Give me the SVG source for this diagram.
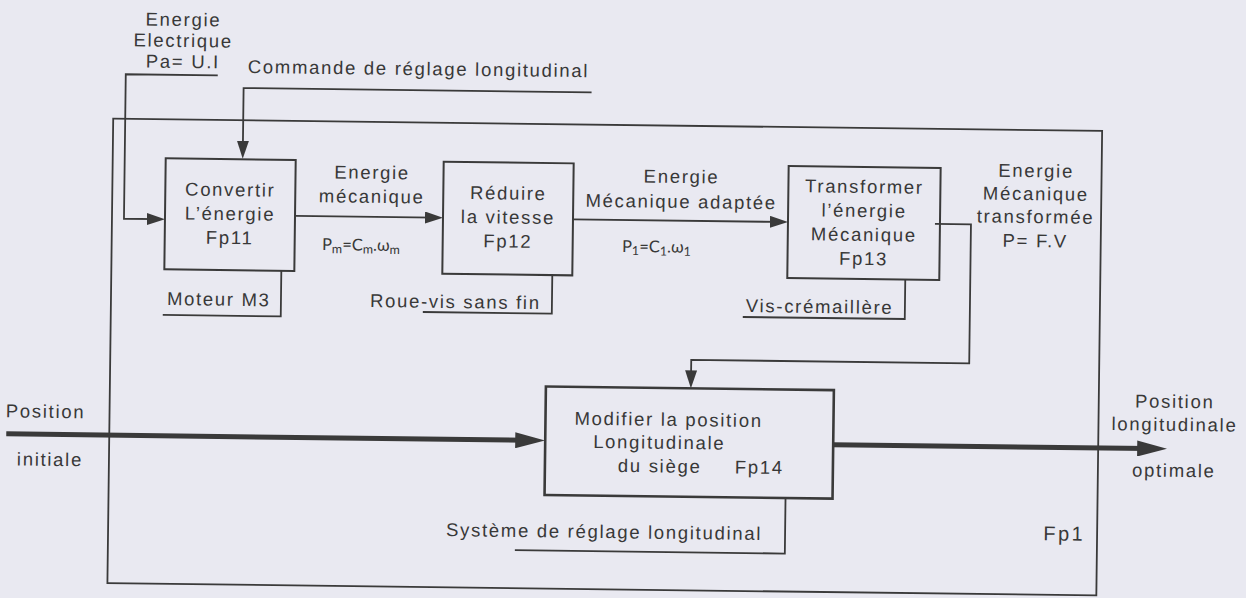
<svg xmlns="http://www.w3.org/2000/svg" width="1246" height="598" viewBox="0 0 1246 598">
<style>
.t{font-family:"Liberation Sans",Arial,sans-serif;font-size:18.5px;letter-spacing:1.7px;fill:#383838}
.c{text-anchor:middle}
.e{text-anchor:end}
.f{font-family:Lato,"Open Sans","Liberation Sans",sans-serif;font-size:16.5px;fill:#383838}
.ln{fill:none;stroke:#3a3a3a;stroke-width:1.8}
.box{fill:none;stroke:#3a3a3a;stroke-width:2}
.thick{fill:none;stroke:#3a3a3a;stroke-width:5}
</style>
<defs>
<marker id="ah" markerUnits="userSpaceOnUse" markerWidth="18" markerHeight="12" refX="10" refY="6" orient="auto"><path d="M0,0 L18,6 L0,12 z" fill="#3a3a3a"/></marker>
<marker id="ahb" markerUnits="userSpaceOnUse" markerWidth="30" markerHeight="16" refX="10" refY="8" orient="auto"><path d="M0,0 L30,8 L0,16 z" fill="#3a3a3a"/></marker>
</defs>
<rect x="0" y="0" width="1246" height="598" fill="#e9e9f1"/>
<g transform="rotate(0.716 623 299)">
<g id="Fp1">
<rect class="box" x="111" y="125" width="989" height="464.5" style="stroke-width:1.8"/>
<text class="t e" x="1088" y="535" style="font-size:20px;letter-spacing:2.4px">Fp1</text>
</g>
<g id="connectors">
<path class="ln" d="M215,80.5 H123 V225 H156" marker-end="url(#ah)"/>
<path class="ln" d="M589,92.8 H241 V155.5" marker-end="url(#ah)"/>
<path class="ln" d="M294,220 H434" marker-end="url(#ah)"/>
<path class="ln" d="M572,220 H779" marker-end="url(#ah)"/>
<path class="ln" d="M934,220 H970 V359 H692 V379.5" marker-end="url(#ah)"/>
<path class="thick" d="M8,441.5 H527" marker-end="url(#ahb)"/>
<path class="thick" d="M835,442 H1149" marker-end="url(#ahb)"/>
<path class="ln" d="M163,320.7 H281 V275"/>
<path class="ln" d="M423,314.5 H552 V276"/>
<path class="ln" d="M743,315.5 H905 V276"/>
<path class="ln" d="M518,551.5 H788 V496"/>
</g>
<g id="Fp11">
<rect class="box" x="164" y="164" width="130" height="111"/>
<text class="t c" x="229" y="201">Convertir</text>
<text class="t c" x="229" y="225">L’énergie</text>
<text class="t c" x="229" y="249">Fp11</text>
<text class="t" x="167" y="310.7">Moteur M3</text>
</g>
<g id="Fp12">
<rect class="box" x="442" y="164" width="130" height="112"/>
<text class="t c" x="507" y="201">Réduire</text>
<text class="t c" x="507" y="225">la vitesse</text>
<text class="t c" x="507" y="249">Fp12</text>
<text class="t" x="370" y="310.2">Roue-vis sans fin</text>
</g>
<g id="Fp13">
<rect class="box" x="787" y="164" width="152" height="112"/>
<text class="t c" x="863" y="190">Transformer</text>
<text class="t c" x="863" y="214">l’énergie</text>
<text class="t c" x="863" y="238">Mécanique</text>
<text class="t c" x="863" y="262">Fp13</text>
<text class="t" x="746" y="310.5">Vis-crémaillère</text>
</g>
<g id="Fp14">
<rect class="box" x="547" y="387.5" width="288" height="108.5" style="stroke-width:2.6"/>
<text class="t" x="576" y="425.3">Modifier la position</text>
<text class="t" x="595" y="448.3">Longitudinale</text>
<text class="t" x="620" y="472">du siège</text>
<text class="t" x="737" y="472">Fp14</text>
<text class="t e" x="765" y="538.3">Système de réglage longitudinal</text>
</g>
<g id="labels">
<text class="t c" x="180" y="31.5">Energie</text>
<text class="t c" x="180" y="52.5">Electrique</text>
<text class="t c" x="180" y="73.5">Pa= U.I</text>
<text class="t" x="245" y="77.7">Commande de réglage longitudinal</text>
<text class="t c" x="370.5" y="182">Energie</text>
<text class="t c" x="370.5" y="206">mécanique</text>
<text class="f" x="321.4" y="253.8">P<tspan font-size="12.5" dy="3">m</tspan><tspan dy="-3">=C</tspan><tspan font-size="12.5" dy="3">m</tspan><tspan dy="-3">.ω</tspan><tspan font-size="12.5" dy="3">m</tspan></text>
<text class="t c" x="680" y="182.3">Energie</text>
<text class="t c" x="680" y="207.3">Mécanique adaptée</text>
<text class="f" x="621.4" y="252">P<tspan font-size="12.5" dy="3">1</tspan><tspan dy="-3">=C</tspan><tspan font-size="12.5" dy="3">1</tspan><tspan dy="-3">.ω</tspan><tspan font-size="12.5" dy="3">1</tspan></text>
<text class="t c" x="1034.5" y="172">Energie</text>
<text class="t c" x="1034.5" y="195">Mécanique</text>
<text class="t c" x="1034.5" y="218">transformée</text>
<text class="t c" x="1034.5" y="242">P= F.V</text>
<text class="t c" x="47" y="425">Position</text>
<text class="t c" x="52" y="473">initiale</text>
<text class="t c" x="1176" y="401">Position</text>
<text class="t c" x="1176" y="424">longitudinale</text>
<text class="t c" x="1176" y="470">optimale</text>
</g>
</g>
</svg>
